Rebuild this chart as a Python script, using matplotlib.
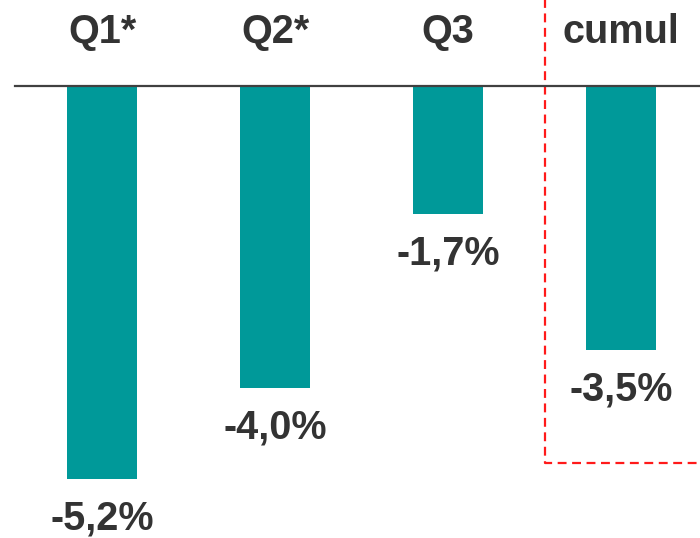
import matplotlib

matplotlib.use("Agg")
import matplotlib.pyplot as plt

categories = ["Q1*", "Q2*", "Q3", "cumul"]
values = [-5.2, -4.0, -1.7, -3.5]
value_labels = ["-5,2%", "-4,0%", "-1,7%", "-3,5%"]

TEAL = "#009999"
TEXT = "#333333"

plt.rcParams["font.family"] = ["Liberation Sans", "DejaVu Sans"]

fig = plt.figure(figsize=(7.0, 5.38), dpi=100)
ax = fig.add_axes([0, 0, 1, 1])
ax.set_xlim(-0.59, 3.457)
ax.set_ylim(-5.987, 1.139)
ax.axis("off")

x = list(range(len(categories)))
ax.bar(x, values, width=0.405, color=TEAL, zorder=2)
ax.axhline(0, xmin=15 / 700, xmax=1, color="#404040", lw=1.6, zorder=3)

for xi, cat in zip(x, categories):
    ax.text(xi, 0.715, cat, ha="center", va="center", fontsize=28.5,
            fontweight="bold", color=TEXT)

for xi, v, lab in zip(x, values, value_labels):
    ax.text(xi, v - 0.67, lab, ha="center", va="baseline", fontsize=28.5,
            fontweight="bold", color=TEXT)

# dashed frame around the cumulative column
ax.plot([2.561, 2.561, 3.5], [1.2, -4.993, -4.993], color="#ff1a1a",
        lw=1.6, ls=(0, (4, 2.5)), clip_on=False, zorder=1)

fig.savefig("out.png", dpi=100)
